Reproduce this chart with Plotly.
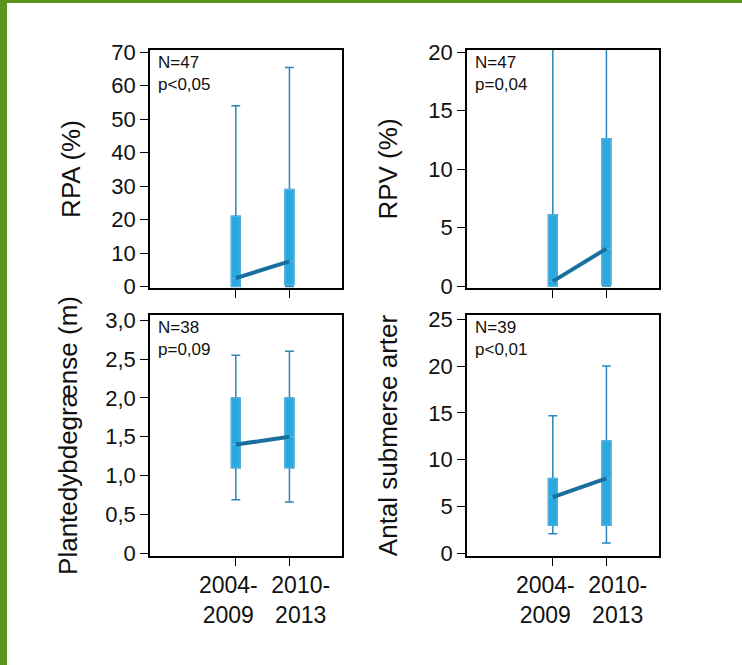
import plotly.graph_objects as go

# ---------------- data ----------------
periods = ["2004-2009", "2010-2013"]
period_tick_labels = ["2004-<br>2009", "2010-<br>2013"]

rpa_lower = [0, 0]
rpa_q1 = [0, 0.5]
rpa_median = [2.5, 7.5]
rpa_q3 = [21, 29]
rpa_upper = [54, 65.5]

rpv_lower = [0, 0]
rpv_q1 = [0, 0.1]
rpv_median = [0.4, 3.2]
rpv_q3 = [6.1, 12.6]
rpv_upper = [25, 25]

depth_lower = [0.69, 0.66]
depth_q1 = [1.1, 1.1]
depth_median = [1.4, 1.5]
depth_q3 = [2.0, 2.0]
depth_upper = [2.55, 2.6]

species_lower = [2.1, 1.1]
species_q1 = [3, 3]
species_median = [6, 8]
species_q3 = [8, 12]
species_upper = [14.7, 20]

panel_titles = ["RPA (%)", "RPV (%)", "Plantedybdegrænse (m)", "Antal submerse arter"]
panel_notes = ["N=47<br>p&lt;0,05", "N=47<br>p=0,04", "N=38<br>p=0,09", "N=39<br>p&lt;0,01"]

rpa_ticks = [0, 10, 20, 30, 40, 50, 60, 70]
rpa_tick_labels = ["0", "10", "20", "30", "40", "50", "60", "70"]
rpv_ticks = [0, 5, 10, 15, 20]
rpv_tick_labels = ["0", "5", "10", "15", "20"]
depth_ticks = [0, 0.5, 1.0, 1.5, 2.0, 2.5, 3.0]
depth_tick_labels = ["0", "0,5", "1,0", "1,5", "2,0", "2,5", "3,0"]
species_ticks = [0, 5, 10, 15, 20, 25]
species_tick_labels = ["0", "5", "10", "15", "20", "25"]

# ---------------- style ----------------
W, H = 742, 665
FONT = "Liberation Sans, Arial, Helvetica, sans-serif"
TXT = "#111111"
BOX_FILL = "#29a9e0"
BOX_EDGE = "#5bb9e4"
WHISKER = "#2a86bb"
MEDIAN = "#19709e"
GREEN = "#5a941c"

panels = [
    dict(lower=rpa_lower, q1=rpa_q1, med=rpa_median, q3=rpa_q3, upper=rpa_upper,
         ticks=rpa_ticks, labels=rpa_tick_labels, yrange=[-0.45, 70.7]),
    dict(lower=rpv_lower, q1=rpv_q1, med=rpv_median, q3=rpv_q3, upper=rpv_upper,
         ticks=rpv_ticks, labels=rpv_tick_labels, yrange=[-0.17, 20.2]),
    dict(lower=depth_lower, q1=depth_q1, med=depth_median, q3=depth_q3, upper=depth_upper,
         ticks=depth_ticks, labels=depth_tick_labels, yrange=[-0.035, 3.068]),
    dict(lower=species_lower, q1=species_q1, med=species_median, q3=species_q3, upper=species_upper,
         ticks=species_ticks, labels=species_tick_labels, yrange=[-0.29, 25.46]),
]

xdom_left = [150 / W, 342 / W]
xdom_right = [467 / W, 659 / W]
ydom_top = [1 - 288 / H, 1 - 50 / H]
ydom_bot = [1 - 556 / H, 1 - 315 / H]
domains = [(xdom_left, ydom_top), (xdom_right, ydom_top),
           (xdom_left, ydom_bot), (xdom_right, ydom_bot)]
standoffs = [23, 23, 20, 23]
XRANGE = [-1.6, 1.98]

fig = go.Figure()
layout = {}
annotations = []

for i, p in enumerate(panels):
    n = i + 1
    xa = "x" if n == 1 else f"x{n}"
    ya = "y" if n == 1 else f"y{n}"
    # full box with whiskers
    fig.add_trace(go.Box(
        x=periods, q1=p["q1"], median=p["med"], q3=p["q3"],
        lowerfence=p["lower"], upperfence=p["upper"],
        xaxis=xa, yaxis=ya, width=0.165, whiskerwidth=1,
        fillcolor=BOX_FILL, line=dict(color=WHISKER, width=1.5),
        boxpoints=False, showlegend=False, hoverinfo="skip"))
    # box body on top (hides dark outline)
    fig.add_trace(go.Box(
        x=periods, q1=p["q1"], median=p["med"], q3=p["q3"],
        lowerfence=p["q1"], upperfence=p["q3"],
        xaxis=xa, yaxis=ya, width=0.165, whiskerwidth=0,
        fillcolor=BOX_FILL, line=dict(color=BOX_EDGE, width=1),
        boxpoints=False, showlegend=False, hoverinfo="skip"))
    # connecting median line
    fig.add_trace(go.Scatter(
        x=periods, y=p["med"], mode="lines", xaxis=xa, yaxis=ya,
        line=dict(color=MEDIAN, width=4), showlegend=False, hoverinfo="skip"))

    xd, yd = domains[i]
    layout[f"xaxis{'' if n == 1 else n}"] = dict(
        domain=xd, anchor=ya, type="category", categoryorder="array", categoryarray=periods,
        range=XRANGE, showline=True, mirror=True, linecolor="black", linewidth=1.5,
        ticks="outside", ticklen=8, tickwidth=1.3, tickcolor="black", automargin=False,
        showticklabels=False, showgrid=False, zeroline=False, fixedrange=True)
    layout[f"yaxis{'' if n == 1 else n}"] = dict(
        domain=yd, anchor=xa, range=p["yrange"], tickvals=p["ticks"], ticktext=p["labels"],
        showline=True, mirror=True, linecolor="black", linewidth=1.5,
        ticks="outside", ticklen=8, tickwidth=1.3, tickcolor="black", automargin=False,
        tickfont=dict(family=FONT, size=22, color=TXT),
        title=dict(text=panel_titles[i], font=dict(family=FONT, size=26, color=TXT),
                   standoff=standoffs[i]),
        showgrid=False, zeroline=False, fixedrange=True)
    annotations.append(dict(
        text=panel_notes[i], xref=f"{xa} domain", yref=f"{ya} domain", x=0, y=1,
        xanchor="left", yanchor="top", align="left", xshift=6, yshift=-1,
        showarrow=False, font=dict(family=FONT, size=17, color=TXT)))

# period labels under the bottom row (separate overlaying axes, spread like the original)
label_pos = [-0.14, 1.21]
for n, base in [(5, 3), (6, 4)]:
    layout[f"xaxis{n}"] = dict(
        overlaying=f"x{base}", anchor=f"y{base}", side="bottom", range=XRANGE,
        type="linear", tickvals=label_pos, ticktext=period_tick_labels, tickangle=0,
        ticks="outside", ticklen=8, tickcolor="rgba(0,0,0,0)", automargin=False,
        tickfont=dict(family=FONT, size=23, color=TXT),
        showline=False, showgrid=False, zeroline=False, fixedrange=True)
    # empty trace so the overlaying label axis is drawn
    fig.add_trace(go.Scatter(x=[], y=[], xaxis=f"x{n}", yaxis=f"y{base}",
                             mode="lines", showlegend=False, hoverinfo="skip"))

fig.update_layout(
    width=W, height=H, margin=dict(l=0, r=0, t=0, b=0, pad=0, autoexpand=False),
    paper_bgcolor="white", plot_bgcolor="white",
    boxmode="overlay", showlegend=False,
    annotations=annotations,
    shapes=[
        dict(type="rect", xref="paper", yref="paper", x0=0, x1=7 / W, y0=0, y1=1,
             fillcolor=GREEN, line=dict(width=0), layer="above"),
        dict(type="rect", xref="paper", yref="paper", x0=0, x1=1, y0=1 - 3 / H, y1=1,
             fillcolor=GREEN, line=dict(width=0), layer="above"),
    ],
    **layout)

pin_page = (
    "document.documentElement.style.margin='0';"
    "document.documentElement.style.overflow='hidden';"
    "document.body.style.margin='0';"
    "document.body.style.overflow='hidden';"
    "var gd=document.getElementsByClassName('plotly-graph-div')[0];"
    "gd.style.position='fixed';gd.style.top='0px';gd.style.left='0px';"
)
fig.write_html("out.html", config={"displayModeBar": False}, post_script=pin_page)
